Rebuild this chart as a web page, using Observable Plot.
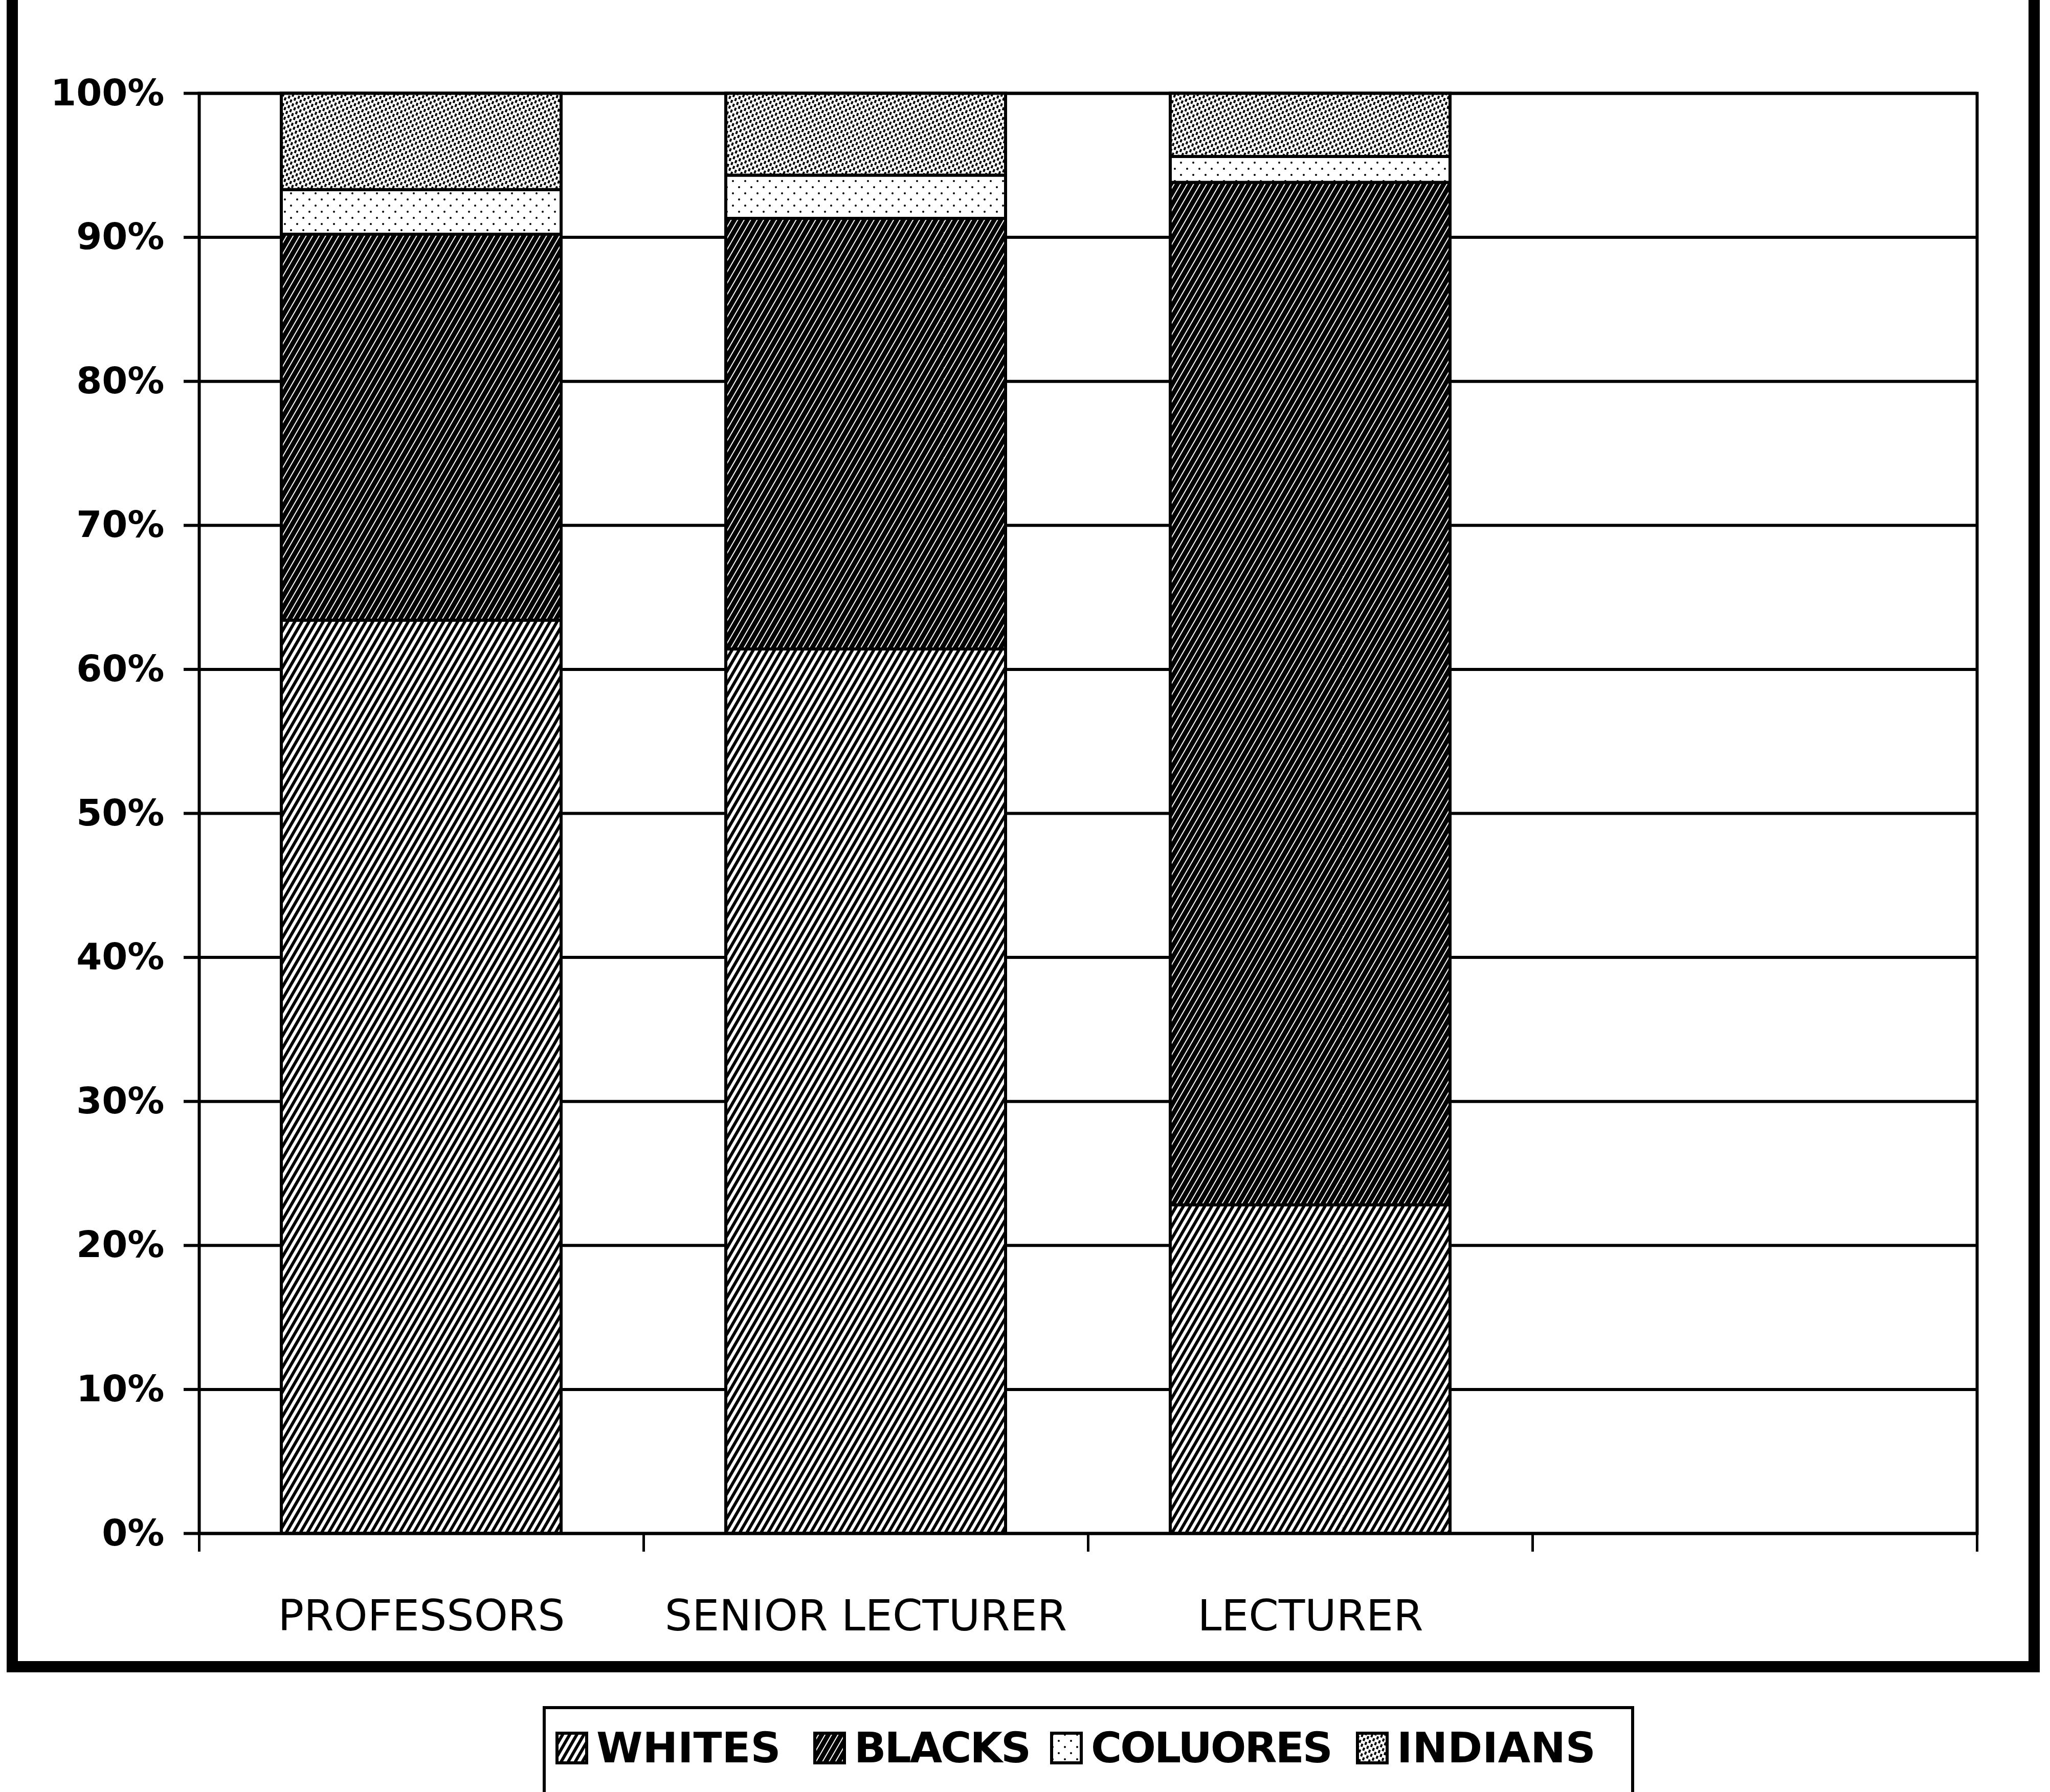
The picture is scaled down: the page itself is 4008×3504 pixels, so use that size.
<!DOCTYPE html>
<html>
<head>
<meta charset="utf-8">
<script src="https://cdn.jsdelivr.net/npm/d3@7"></script>
<script src="https://cdn.jsdelivr.net/npm/@observablehq/plot@0.6"></script>
<style>
  html, body { margin: 0; padding: 0; background: #fff; width: 4008px; height: 3504px; overflow: hidden; position: relative;
    font-family: "Comic Sans MS", "DejaVu Sans", sans-serif; }
  #frame { position: absolute; left: 13px; top: -40px; width: 3975px; height: 3310px; border: 22px solid #000; box-sizing: border-box; }
  #chart { position: absolute; left: 0; top: 0; }
  #legend { position: absolute; left: 1061px; top: 3336px; width: 2134px; height: 240px; border: 6px solid #000; box-sizing: border-box; background: #fff; }
  #legend .row { position: absolute; left: 19px; top: 36px; display: flex; align-items: center; height: 80px; }
  #legend .item { display: flex; align-items: center; white-space: nowrap; }
  #legend .item:nth-child(1) { width: 504px; }
  #legend .item:nth-child(2) { width: 463px; }
  #legend .item:nth-child(3) { width: 598px; }
  #legend .item svg { margin-right: 16px; flex: none; }
  #legend .item span { font-size: 82px; font-weight: bold; line-height: 1; }
  #legend .item:nth-child(2) span, #legend .item:nth-child(3) span { letter-spacing: -3px; }
</style>
</head>
<body>
<svg id="defs" width="0" height="0" style="position:absolute"></svg>
<div id="frame"></div>
<div id="chart"></div>
<div id="legend"><div class="row"></div></div>
<script>
// ---- data ----
const categories = ["PROFESSORS", "SENIOR LECTURER", "LECTURER"];
const groups = ["WHITES", "BLACKS", "COLUORES", "INDIANS"];
const whites    = [63.4, 61.4, 22.8];
const blacks    = [26.8, 29.9, 71.0];
const coloureds = [3.1, 3.0, 1.8];
const indians   = [6.7, 5.7, 4.4];
const yTicks = [0, 10, 20, 30, 40, 50, 60, 70, 80, 90, 100];
const emptySlot = "";  // the 4th, empty category slot of the original chart

const seriesValues = [whites, blacks, coloureds, indians];
const table = [];
groups.forEach((g, gi) => categories.forEach((c, ci) => table.push({category: c, group: g, value: seriesValues[gi][ci]})));

// ---- fill patterns (monochrome scan look) ----
const defs = d3.select("#defs").append("defs");
function stripePattern(id, size, angle, bg, fg, stripeW) {
  const p = defs.append("pattern").attr("id", id).attr("patternUnits", "userSpaceOnUse")
    .attr("width", size).attr("height", size).attr("patternTransform", `rotate(${angle})`);
  p.append("rect").attr("width", size).attr("height", size).attr("fill", bg);
  p.append("rect").attr("width", stripeW).attr("height", size).attr("fill", fg);
  return p;
}
stripePattern("pw", 12, 30, "#fff", "#000", 6);
stripePattern("pb", 11, 30, "#000", "#fff", 2);
const pc = defs.append("pattern").attr("id", "pc").attr("patternUnits", "userSpaceOnUse").attr("width", 24).attr("height", 24);
pc.append("rect").attr("width", 24).attr("height", 24).attr("fill", "#fff");
pc.append("circle").attr("cx", 5).attr("cy", 6).attr("r", 2).attr("fill", "#000");
pc.append("circle").attr("cx", 17).attr("cy", 18).attr("r", 2).attr("fill", "#000");
const pi = defs.append("pattern").attr("id", "pi").attr("patternUnits", "userSpaceOnUse")
  .attr("width", 12).attr("height", 12).attr("patternTransform", "rotate(20)");
pi.append("rect").attr("width", 12).attr("height", 12).attr("fill", "#fff");
pi.append("rect").attr("x", 0).attr("y", 0).attr("width", 4).attr("height", 6).attr("fill", "#000");
pi.append("rect").attr("x", 6).attr("y", 6).attr("width", 4).attr("height", 6).attr("fill", "#000");
const patternFills = ["url(#pw)", "url(#pb)", "url(#pc)", "url(#pi)"];

// ---- chart ----
const W = 4008, H = 3280;
const mL = 389, mR = 143, mT = 182, mB = 282;
const xDomain = [...categories, emptySlot];
const step = (W - mL - mR) / xDomain.length;

const chart = Plot.plot({
  width: W, height: H,
  marginLeft: mL, marginRight: mR, marginTop: mT, marginBottom: mB,
  style: {fontFamily: "'Comic Sans MS', 'DejaVu Sans', sans-serif", background: "transparent", color: "#000"},
  x: {domain: xDomain, paddingInner: 0.37, paddingOuter: 0.185},
  y: {domain: [0, 100]},
  color: {domain: groups, range: patternFills},
  marks: [
    Plot.gridY(yTicks, {stroke: "#000", strokeOpacity: 1, strokeWidth: 6}),
    Plot.barY(table, Plot.stackY({order: groups}, {x: "category", y: "value", z: "group", fill: "group", stroke: "#000", strokeWidth: 6})),
    Plot.frame({stroke: "#000", strokeWidth: 6}),
    Plot.axisY({ticks: yTicks, tickSize: 30, tickPadding: 38, tickFormat: d => d + "%", fontSize: 72, fontWeight: "bold", strokeWidth: 6, label: null}),
    Plot.axisX({tickSize: 0, tickPadding: 130, fontSize: 84, label: null}),
    Plot.ruleX(xDomain, {x: d => d, dx: -step / 2, y1: 0, y2: 0, insetBottom: -36, stroke: "#000", strokeWidth: 5}),
    Plot.ruleX([emptySlot], {x: d => d, dx: step / 2, y1: 0, y2: 0, insetBottom: -36, stroke: "#000", strokeWidth: 5})
  ]
});
document.getElementById("chart").append(chart);

// ---- legend ----
const row = d3.select("#legend .row");
groups.forEach((g, i) => {
  const item = row.append("div").attr("class", "item");
  const s = item.append("svg").attr("width", 64).attr("height", 64);
  s.append("rect").attr("x", 3).attr("y", 3).attr("width", 58).attr("height", 58)
    .attr("fill", patternFills[i]).attr("stroke", "#000").attr("stroke-width", 6);
  item.append("span").text(g);
});
</script>
</body>
</html>
